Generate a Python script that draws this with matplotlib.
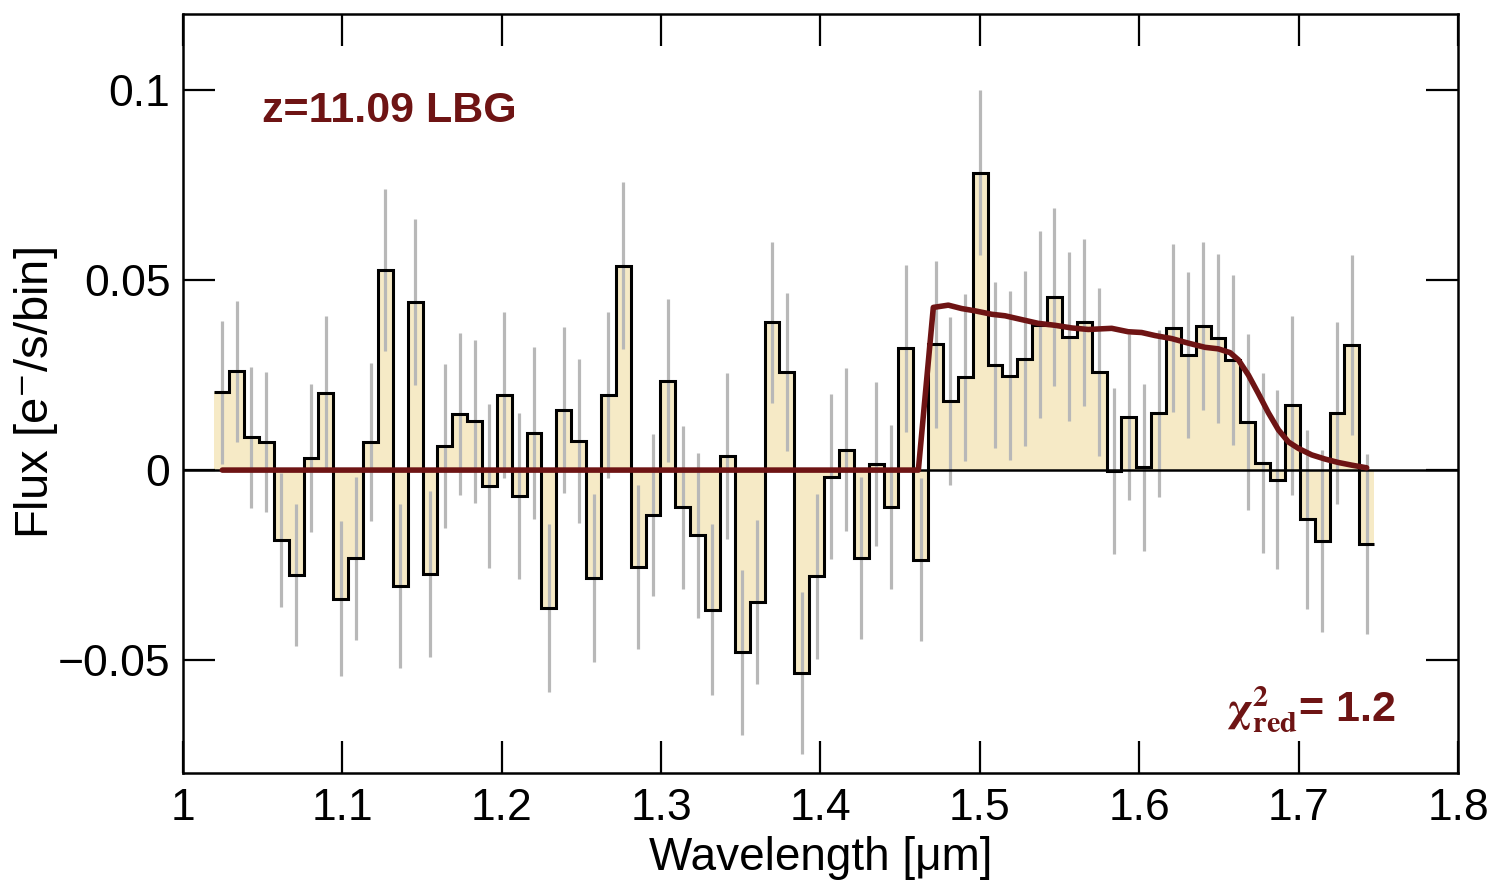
import numpy as np
import matplotlib
matplotlib.use("Agg")
import matplotlib.pyplot as plt

plt.rcParams['font.family'] = ['Liberation Sans', 'DejaVu Sans']
plt.rcParams['mathtext.fontset'] = 'stix'

# binned spectrum: bin centres [um], flux [e-/s/bin], 1-sigma errors
wave = [1.0244, 1.0337, 1.0430, 1.0524, 1.0617, 1.0710, 1.0803, 1.0897, 1.0990, 1.1083,
        1.1177, 1.1270, 1.1363, 1.1456, 1.1550, 1.1643, 1.1736, 1.1830, 1.1923, 1.2016,
        1.2110, 1.2203, 1.2296, 1.2389, 1.2483, 1.2576, 1.2669, 1.2763, 1.2856, 1.2949,
        1.3042, 1.3136, 1.3229, 1.3322, 1.3416, 1.3509, 1.3602, 1.3696, 1.3789, 1.3882,
        1.3976, 1.4069, 1.4162, 1.4255, 1.4349, 1.4442, 1.4535, 1.4628, 1.4722, 1.4815,
        1.4909, 1.5002, 1.5095, 1.5188, 1.5281, 1.5375, 1.5468, 1.5561, 1.5655, 1.5748,
        1.5842, 1.5935, 1.6028, 1.6121, 1.6214, 1.6308, 1.6401, 1.6494, 1.6588, 1.6681,
        1.6775, 1.6867, 1.6961, 1.7054, 1.7147, 1.7241, 1.7334, 1.7428]
flux = [0.0205, 0.0260, 0.0086, 0.0074, -0.0184, -0.0277, 0.0031, 0.0204, -0.0338, -0.0232,
        0.0074, 0.0527, -0.0304, 0.0443, -0.0273, 0.0063, 0.0148, 0.0128, -0.0041, 0.0198,
        -0.0068, 0.0098, -0.0363, 0.0158, 0.0076, -0.0284, 0.0198, 0.0538, -0.0254, -0.0118,
        0.0235, -0.0098, -0.0172, -0.0367, 0.0037, -0.0479, -0.0348, 0.0389, 0.0258, -0.0534,
        -0.0280, -0.0017, 0.0054, -0.0232, 0.0015, -0.0097, 0.0320, -0.0236, 0.0331, 0.0182,
        0.0244, 0.0782, 0.0276, 0.0248, 0.0293, 0.0382, 0.0455, 0.0351, 0.0389, 0.0258,
        -0.0002, 0.0139, 0.0007, 0.0149, 0.0374, 0.0302, 0.0379, 0.0347, 0.0290, 0.0126,
        0.0019, -0.0025, 0.0170, -0.0130, -0.0187, 0.0151, 0.0329, -0.0194]
err = [0.0188, 0.0185, 0.0185, 0.0184, 0.0177, 0.0187, 0.0195, 0.0202, 0.0205, 0.0214,
       0.0209, 0.0213, 0.0216, 0.0218, 0.0219, 0.0216, 0.0214, 0.0215, 0.0216, 0.0218,
       0.0218, 0.0226, 0.0220, 0.0219, 0.0216, 0.0220, 0.0218, 0.0219, 0.0216, 0.0213,
       0.0214, 0.0215, 0.0216, 0.0224, 0.0219, 0.0217, 0.0216, 0.0212, 0.0208, 0.0212,
       0.0216, 0.0218, 0.0214, 0.0213, 0.0216, 0.0215, 0.0220, 0.0215, 0.0219, 0.0221,
       0.0219, 0.0217, 0.0218, 0.0222, 0.0230, 0.0246, 0.0234, 0.0223, 0.0220, 0.0220,
       0.0219, 0.0218, 0.0219, 0.0219, 0.0221, 0.0218, 0.0220, 0.0222, 0.0224, 0.0231,
       0.0237, 0.0236, 0.0236, 0.0236, 0.0240, 0.0239, 0.0238, 0.0237]

# best-fit LBG template
model_wave = [1.0247, 1.4614, 1.4708, 1.4802, 1.4886, 1.4970, 1.5074, 1.5158, 1.5262, 1.5367,
              1.5471, 1.5576, 1.5680, 1.5827, 1.5931, 1.6015, 1.6099, 1.6204, 1.6308, 1.6413,
              1.6496, 1.6570, 1.6622, 1.6685, 1.6748, 1.6810, 1.6873, 1.6936, 1.6999, 1.7082,
              1.7166, 1.7249, 1.7333, 1.7427]
model_flux = [0.0, 0.0, 0.0428, 0.0434, 0.0425, 0.0419, 0.0410, 0.0406, 0.0396, 0.0386,
              0.0381, 0.0374, 0.0370, 0.0373, 0.0364, 0.0362, 0.0354, 0.0346, 0.0334, 0.0323,
              0.0319, 0.0309, 0.0290, 0.0250, 0.0201, 0.0151, 0.0106, 0.0074, 0.0057, 0.0040,
              0.0029, 0.0020, 0.0013, 0.0006]

xticks = [1.0, 1.1, 1.2, 1.3, 1.4, 1.5, 1.6, 1.7, 1.8]
xticklabels = ['1', '1.1', '1.2', '1.3', '1.4', '1.5', '1.6', '1.7', '1.8']
yticks = [-0.05, 0.0, 0.05, 0.1]
yticklabels = ['\u22120.05', '0', '0.05', '0.1']

dark_red = '#6e1414'

wave = np.array(wave)
mid = 0.5 * (wave[1:] + wave[:-1])
edges = np.concatenate([[2 * wave[0] - mid[0]], mid, [2 * wave[-1] - mid[-1]]])

fig = plt.figure(figsize=(14.96, 8.82), dpi=100)
ax = fig.add_axes([0.1223, 0.1236, 0.8523, 0.8605])

ax.stairs(flux, edges, baseline=0, fill=True, color='#f6eac6', lw=0, zorder=1)
ax.vlines(wave, np.array(flux) - np.array(err), np.array(flux) + np.array(err),
          color='#b8b8b8', lw=2.3, zorder=2)
ax.stairs(flux, edges, baseline=None, color='black', lw=2.2, zorder=3)
ax.axhline(0, color='black', lw=1.8, zorder=4)
ax.plot(model_wave, model_flux, color=dark_red, lw=4, solid_joinstyle='round',
        solid_capstyle='round', zorder=5)

ax.text(1.0496, 0.0945, 'z=11.09 LBG', color=dark_red, fontsize=31,
        fontweight='bold', va='center', ha='left')
ax.text(1.6544, -0.0628, r'$\mathbf{\chi}^{\mathbf{2}}_{\mathbf{red}}$= 1.2', color=dark_red,
        fontsize=31, fontweight='bold', va='center', ha='left')

ax.set_xlim(1.0, 1.8)
ax.set_ylim(-0.0797, 0.12)
ax.set_xticks(xticks)
ax.set_xticklabels(xticklabels)
ax.set_yticks(yticks)
ax.set_yticklabels(yticklabels)
ax.tick_params(direction='in', length=23, width=1.6, labelsize=32,
               top=True, right=True, pad=9)
ax.tick_params(axis='x', pad=11)
for sp in ax.spines.values():
    sp.set_linewidth(1.8)

ax.set_xlabel('Wavelength [\u03bcm]', fontsize=33, labelpad=5)
ax.set_ylabel('Flux [e$^{-}$/s/bin]', fontsize=34)
ax.yaxis.set_label_coords(-0.0965, 0.5)

fig.savefig('out.png', dpi=100)
